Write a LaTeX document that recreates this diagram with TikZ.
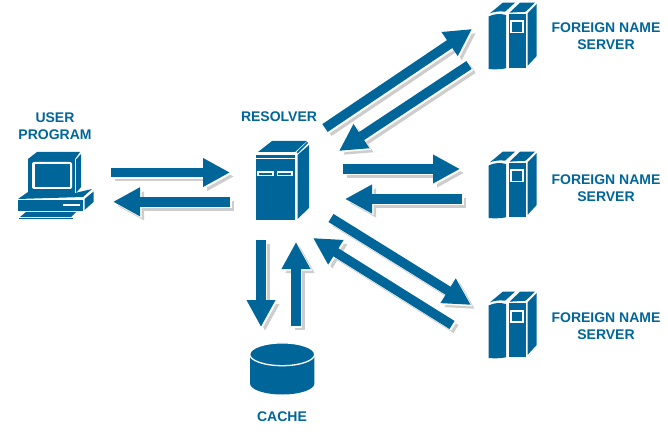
\documentclass[tikz,border=0pt]{standalone}
\usepackage{fontspec}
\setmainfont{Liberation Sans}
\usetikzlibrary{arrows.meta}
\definecolor{netblue}{HTML}{00669A}
\definecolor{netshadow}{HTML}{CDCDCD}
\tikzstyle{label} = [text=netblue, font=\bfseries\fontsize{14}{17}\selectfont, align=center, inner sep=0pt]
\tikzstyle{arrowbase} = [line width=9.5pt, -{Triangle[length=27pt,width=27pt]}]
\tikzstyle{arrow} = [arrowbase, draw=netblue]
\tikzstyle{arrowgap} = [arrowbase, draw=white, transform canvas={shift={(1.6pt,-1.6pt)}}]
\tikzstyle{arrowshadow} = [arrowbase, draw=netshadow, transform canvas={shift={(4pt,-4pt)}}]
\tikzstyle{solid} = [fill=netblue, draw=none]
\newcommand{\netlink}[2]{
  \draw [arrowshadow] (#1) -- (#2);
  \draw [arrowgap] (#1) -- (#2);
  \draw [arrow] (#1) -- (#2);
}
\tikzset{
  terminal/.pic={
    \fill [solid] (28,159) -- (37,152) -- (80,152) -- (75,159) -- cycle;
    \fill [solid] (28,159) rectangle (75,193);
    \fill [white, rounded corners=2pt] (32,162) rectangle (72,189);
    \fill [solid] (35,164.5) rectangle (69.5,187);
    \fill [solid] (76,159.5) -- (81,154) -- (81,187) -- (76,193) -- cycle;
    \fill [solid] (18,199) -- (28,192) -- (75,193) -- (92,189) -- (83,197) -- cycle;
    \fill [solid] (17.5,200) rectangle (83,211);
    \fill [white] (63,204.5) rectangle (80,206.5);
    \fill [solid] (84.5,199) -- (93.5,191.5) -- (93.5,202) -- (84.5,210) -- cycle;
    \fill [solid] (20,217) -- (26,212) -- (76,212) -- (71,217) -- cycle;
    \fill [solid] (19,218.5) rectangle (73,219.5);
  },
  hostbox/.pic={
    \fill [solid] (258,152) -- (272,141) -- (307,141) -- (295,152) -- cycle;
    \fill [solid] (255.5,155) rectangle (295,158);
    \fill [solid] (255.5,159) rectangle (295,220);
    \fill [white] (257,171) rectangle (273.5,176.5);
    \fill [solid] (258.7,172.7) rectangle (271.7,175);
    \fill [white] (276.5,171) rectangle (292.5,176.5);
    \fill [solid] (278,172.7) rectangle (291,175);
    \fill [solid] (297.5,155) -- (309,145) -- (309,208) -- (297.5,219) -- cycle;
    \fill [solid] (296.5,152) -- (307,142) -- (308,143) -- (297.5,153.5) -- cycle;
  },
  nameserver/.pic={
    \fill [solid] (488.5,16.5) .. controls (495,13.5) and (500,13.5) .. (506,15) -- (506,68.3) .. controls (500,69.5) and (494,69.5) .. (488.5,69) -- cycle;
    \fill [solid] (509,14) rectangle (525.7,67.7);
    \fill [white] (510,20.5) rectangle (524,33.5);
    \fill [solid] (512,22.5) rectangle (522.3,32);
    \fill [solid] (527.7,13.3) -- (536.7,4) -- (536.7,56) -- (527.7,65.7) -- cycle;
    \fill [solid] (490,13.3) -- (502.7,2.7) -- (515,2.7) -- (505,11.7) .. controls (500,11) and (495,11.5) .. cycle;
    \fill [solid] (509.5,12.7) -- (520,2.7) -- (535,2.7) -- (525.7,11.7) -- cycle;
  },
  diskstore/.pic={
    \fill [solid] (250,354) -- (250,383.5) arc [start angle=180, end angle=360, x radius=32.2, y radius=-11] -- (314.4,354) -- cycle;
    \fill [solid, draw=white, line width=1.3pt] (282.2,354.3) ellipse [x radius=32.5, y radius=11.4];
  }
}
\begin{document}
\begin{tikzpicture}[x=1pt, y=-1pt]
\useasboundingbox (0,0) rectangle (668,435);
\pic (user) at (0,0) {terminal};
\pic (resolver) at (0,0) {hostbox};
\pic (fnsa) at (0,0) {nameserver};
\pic (fnsb) at (0,149) {nameserver};
\pic (fnsc) at (0,289) {nameserver};
\pic (cache) at (0,0) {diskstore};
\node (userlabel) [label] at (55,126) {USER\\PROGRAM};
\node (resolverlabel) [label] at (279,116.5) {RESOLVER};
\node (fnsalabel) [label] at (606,36) {FOREIGN NAME\\SERVER};
\node (fnsblabel) [label] at (606,188) {FOREIGN NAME\\SERVER};
\node (fnsclabel) [label] at (606,326) {FOREIGN NAME\\SERVER};
\node (cachelabel) [label] at (282,416.5) {CACHE};
\coordinate (useraout) at (111,172.5);
\coordinate (useraend) at (230,172.5);
\coordinate (userbout) at (230,201.8);
\coordinate (userbend) at (113,201.8);
\coordinate (topout) at (325,128);
\coordinate (topend) at (472,29);
\coordinate (topbout) at (469,65);
\coordinate (topbend) at (339,151);
\coordinate (midout) at (343,169);
\coordinate (midend) at (460,169);
\coordinate (midbout) at (462,199);
\coordinate (midbend) at (345,199);
\coordinate (lowout) at (331,218);
\coordinate (lowend) at (471,305);
\coordinate (lowbout) at (452,325);
\coordinate (lowbend) at (313,238);
\coordinate (cacheout) at (261,240);
\coordinate (cacheend) at (261,327);
\coordinate (cachebout) at (296,326);
\coordinate (cachebend) at (296,242);
\netlink{useraout}{useraend}
\netlink{userbout}{userbend}
\netlink{topout}{topend}
\netlink{topbout}{topbend}
\netlink{midout}{midend}
\netlink{midbout}{midbend}
\netlink{lowout}{lowend}
\netlink{lowbout}{lowbend}
\netlink{cacheout}{cacheend}
\netlink{cachebout}{cachebend}
\end{tikzpicture}
\end{document}
